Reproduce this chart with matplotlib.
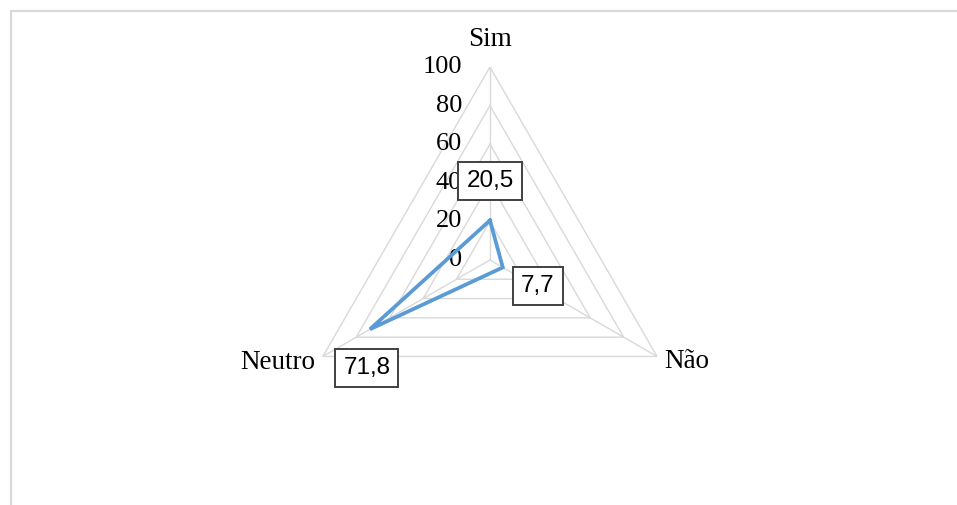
import numpy as np
import matplotlib
matplotlib.use('Agg')
import matplotlib.pyplot as plt
from matplotlib.patches import Rectangle

# Respostas (%)
categorias = ['Sim', 'Não', 'Neutro']
valores    = [20.5, 7.7, 71.8]
rotulos    = ['20,5', '7,7', '71,8']
niveis     = [0, 20, 40, 60, 80, 100]

cinza = '#d9d9d9'
azul  = '#5b9bd5'

fig = plt.figure(figsize=(9.57, 5.05), dpi=100)
fig.patch.set_facecolor('white')

# moldura do grafico (so aparecem topo e esquerda)
fig.add_artist(Rectangle((10.5/957, -0.2), 1.2, 1.2 + (505-10.5)/505 - 1.0,
                         transform=fig.transFigure, fill=False,
                         edgecolor=cinza, linewidth=1.6))

ax = fig.add_axes([0.3103, 0.103, 0.4033, 0.7644], projection='polar')
ax.set_theta_offset(np.pi/2)
ax.set_theta_direction(-1)
ax.set_ylim(0, 100)
ax.grid(False)
ax.set_xticks([])
ax.set_yticks([])
ax.spines['polar'].set_visible(False)
ax.patch.set_alpha(0)

ang = np.linspace(0, 2*np.pi, len(categorias), endpoint=False)
ang_f = np.append(ang, ang[0])

# grade triangular
for nv in niveis[1:]:
    ax.plot(ang_f, [nv]*len(ang_f), color=cinza, lw=1.0, zorder=1)
for a in ang:
    ax.plot([a, a], [0, niveis[-1]], color=cinza, lw=1.0, zorder=1)

# rotulos do eixo radial
serif = ['Liberation Serif', 'DejaVu Serif']
for nv in niveis:
    ax.annotate(str(nv), (0, nv), xytext=(-28, 0), textcoords='offset pixels',
                ha='right', va='center', fontsize=19, family=serif)

# nomes das categorias
desloc = [((0, 27), 'center', 'center'),
          ((7, -5), 'left', 'center'),
          ((-8, -6), 'right', 'center')]
for a, nome, (d, ha, va) in zip(ang, categorias, desloc):
    ax.annotate(nome, (a, niveis[-1]), xytext=d, textcoords='offset pixels',
                ha=ha, va=va, fontsize=19.5, family=serif)

# serie
v_f = np.append(valores, valores[0])
ax.plot(ang_f, v_f, color=azul, lw=2.7, zorder=3, solid_joinstyle='miter')

# rotulos de dados
desl_rot = [(0, 39), (35, -19), (-3, -39)]
for a, v, txt, d in zip(ang, valores, rotulos, desl_rot):
    ax.annotate(txt, (a, v), xytext=d, textcoords='offset pixels',
                ha='center', va='center', fontsize=17.5,
                family=['Liberation Sans', 'DejaVu Sans'], zorder=5,
                bbox=dict(boxstyle='square,pad=0.33', fc='white',
                          ec='#404040', lw=1.4))

plt.savefig('out.png', dpi=100)
